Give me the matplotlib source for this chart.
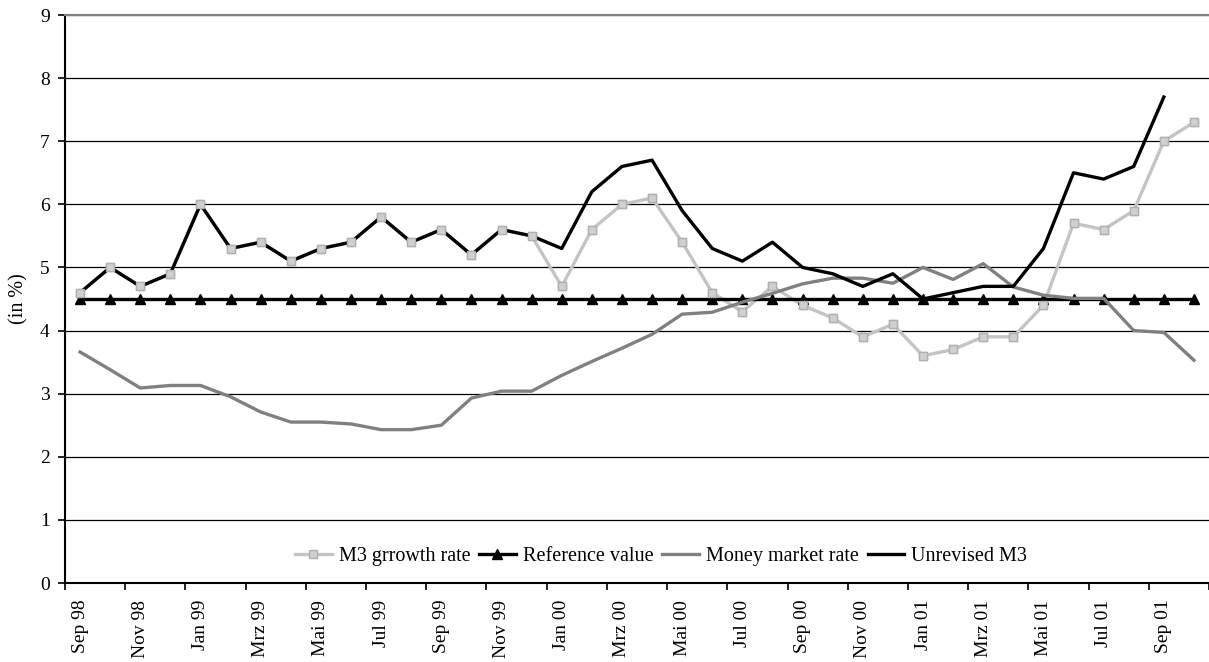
import matplotlib
matplotlib.use("Agg")
import matplotlib.pyplot as plt
from matplotlib.ticker import FixedLocator, NullFormatter

plt.rcParams["font.family"] = ["Liberation Serif", "DejaVu Serif"]

months = ["Sep 98", "Okt 98", "Nov 98", "Dez 98", "Jan 99", "Feb 99", "Mrz 99", "Apr 99",
          "Mai 99", "Jun 99", "Jul 99", "Aug 99", "Sep 99", "Okt 99", "Nov 99", "Dez 99",
          "Jan 00", "Feb 00", "Mrz 00", "Apr 00", "Mai 00", "Jun 00", "Jul 00", "Aug 00",
          "Sep 00", "Okt 00", "Nov 00", "Dez 00", "Jan 01", "Feb 01", "Mrz 01", "Apr 01",
          "Mai 01", "Jun 01", "Jul 01", "Aug 01", "Sep 01", "Okt 01"]

m3_growth = [4.6, 5.0, 4.7, 4.9, 6.0, 5.3, 5.4, 5.1, 5.3, 5.4, 5.8, 5.4, 5.6, 5.2, 5.6, 5.5,
             4.7, 5.6, 6.0, 6.1, 5.4, 4.6, 4.3, 4.7, 4.4, 4.2, 3.9, 4.1, 3.6, 3.7, 3.9, 3.9,
             4.4, 5.7, 5.6, 5.9, 7.0, 7.3]

reference_value = [4.5] * 38

money_market = [3.66, 3.38, 3.09, 3.13, 3.13, 2.95, 2.71, 2.55, 2.55, 2.52, 2.43, 2.43,
                2.50, 2.93, 3.04, 3.04, 3.29, 3.51, 3.72, 3.94, 4.26, 4.29, 4.45, 4.59,
                4.74, 4.83, 4.83, 4.75, 5.00, 4.81, 5.06, 4.69, 4.56, 4.51, 4.51, 4.00,
                3.97, 3.53]

# unrevised series stops at Sep 01
unrevised_m3 = [4.6, 5.0, 4.7, 4.9, 6.0, 5.3, 5.4, 5.1, 5.3, 5.4, 5.8, 5.4, 5.6, 5.2, 5.6, 5.5,
                5.3, 6.2, 6.6, 6.7, 5.9, 5.3, 5.1, 5.4, 5.0, 4.9, 4.7, 4.9, 4.5, 4.6, 4.7, 4.7,
                5.3, 6.5, 6.4, 6.6, 7.7]

x = list(range(len(months)))

fig = plt.figure(figsize=(12.09, 6.62), dpi=100)
ax = fig.add_axes([65 / 1209, 79 / 662, 1144 / 1209, 568 / 662])

ax.plot(x, m3_growth, color="#c4c4c4", lw=2.4, marker="s", ms=6,
        mfc="#d0d0d0", mec="#b0b0b0", zorder=2, label="M3 grrowth rate")
ax.plot(x, reference_value, color="black", lw=2.4, marker="^", ms=7.5,
        zorder=3, label="Reference value")
ax.plot(x, money_market, color="#808080", lw=2.4, zorder=4, label="Money market rate")
ax.plot(x[:len(unrevised_m3)], unrevised_m3, color="black", lw=2.4, zorder=5,
        label="Unrevised M3")
# squares sit on top of the black line
ax.plot(x, m3_growth, ls="none", marker="s", ms=6, mfc="#d0d0d0", mec="#b0b0b0", zorder=6)

ax.set_xlim(-0.5, len(months) - 0.5)
ax.set_ylim(0, 9)
ax.set_yticks(range(0, 10))
ax.yaxis.grid(True, color="black", lw=0.9)
ax.set_axisbelow(True)

ax.xaxis.set_major_locator(FixedLocator([i - 0.5 for i in range(0, len(months) + 1, 2)]))
ax.xaxis.set_major_formatter(NullFormatter())
ax.set_xticks(x[::2], minor=True)
ax.set_xticklabels(months[::2], minor=True, rotation=90, fontsize=14)
ax.tick_params(axis="x", which="minor", length=0, pad=12)
ax.tick_params(axis="x", which="major", length=5, width=1.2, direction="out")
ax.tick_params(axis="y", length=5, width=1.2, labelsize=14, pad=6)

ax.spines["right"].set_visible(False)
ax.spines["top"].set_color("#808080")
ax.spines["top"].set_linewidth(1.5)
ax.spines["left"].set_linewidth(1.5)
ax.spines["bottom"].set_linewidth(1.5)

ax.set_ylabel("(in %)", fontsize=14.5, labelpad=8)

ax.legend(loc="center", bbox_to_anchor=(0.521, 0.046), ncol=4, frameon=False,
          fontsize=14.5, handlelength=1.8, columnspacing=0.45, handletextpad=0.35,
          borderpad=0.2)

fig.savefig("out.png", dpi=100)
